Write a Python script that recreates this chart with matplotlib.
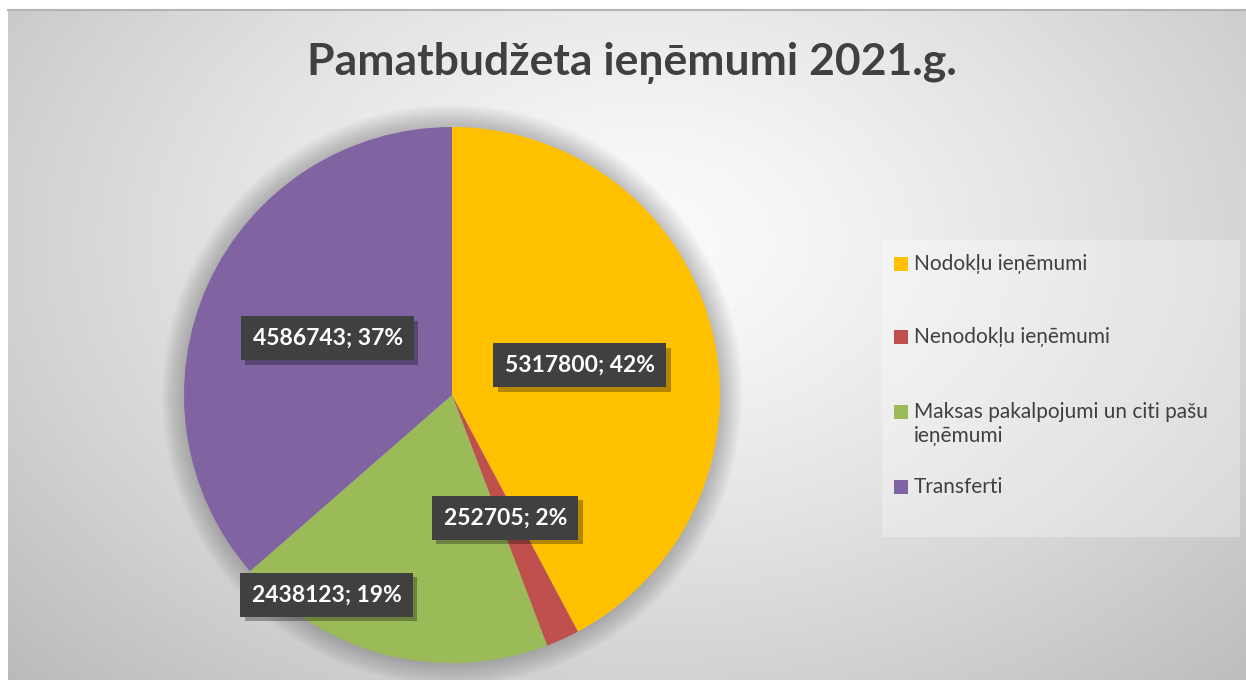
import numpy as np
import matplotlib
matplotlib.use("Agg")
import matplotlib.pyplot as plt
import matplotlib.patheffects as pe
from matplotlib.patches import Rectangle, Circle

plt.rcParams['font.family'] = ['Lato', 'DejaVu Sans']

# data
categories = ['Nodokļu ieņēmumi', 'Nenodokļu ieņēmumi',
              'Maksas pakalpojumi un citi pašu\nieņēmumi', 'Transferti']
values = [5317800, 252705, 2438123, 4586743]
pct_labels = ['42%', '2%', '19%', '37%']
colors = ['#FFC000', '#C0504D', '#9BBB59', '#8064A2']
title = 'Pamatbudžeta ieņēmumi 2021.g.'

W, H = 1246, 680
fig = plt.figure(figsize=(W / 100, H / 100), dpi=100)

# background with radial gradient
bg = fig.add_axes([8 / W, 0, (W - 8) / W, (H - 10) / H])
yy, xx = np.mgrid[0:H - 10, 0:W - 8]
d = np.sqrt(((xx - 640) / 800.0) ** 2 + ((yy - 230) / 560.0) ** 2)
g = 0.985 - 0.22 * np.clip(d, 0, 1.2) ** 1.3
bg.imshow(np.dstack([g, g, g]), aspect='auto', interpolation='bilinear')
bg.axis('off')
fig.add_artist(plt.Line2D([8 / W, 1], [(H - 10) / H] * 2, color='#b4b4b4', lw=1.5))

# pie
cx, cy, R = 452, 395, 268
ax = fig.add_axes([(cx - R) / W, (H - cy - R) / H, 2 * R / W, 2 * R / H])
ax.axis('off')

# soft glow around the pie
for i in range(14):
    ax.add_patch(Circle((0, 0), 1 + 0.006 * (i + 1), color='#000000', alpha=0.016, lw=0,
                        zorder=0, clip_on=False))

wedges, _ = ax.pie(values, colors=colors, startangle=90, counterclock=False, radius=1,
                   wedgeprops=dict(linewidth=0))
ax.set_xlim(-1, 1)
ax.set_ylim(-1, 1)
ax.set_aspect('equal')

label_r = [0.49, 0.5, 0.88, 0.51]
label_shift = [-1, -1, -18, 0]
shadow = [pe.SimplePatchShadow(offset=(3, -3), shadow_rgbFace='black', alpha=0.3), pe.Normal()]
for w, v, p, r, s in zip(wedges, values, pct_labels, label_r, label_shift):
    a = np.deg2rad((w.theta1 + w.theta2) / 2 + s)
    x, y = r * np.cos(a), r * np.sin(a)
    t = ax.text(x, y, f'{v}; {p}', ha='center', va='center', fontsize=16.5, fontweight='bold',
                color='white', bbox=dict(boxstyle='square,pad=0.5', fc='#404040', ec='none'),
                zorder=5)
    t.get_bbox_patch().set_path_effects(shadow)

# title
fig.text(632 / W, 1 - 63 / H, title, ha='center', va='center', fontsize=32, fontweight='bold',
         color='#404040')

# legend (manual)
fig.add_artist(Rectangle((882 / W, 1 - 537 / H), (1240 - 882) / W, (537 - 240) / H,
                         transform=fig.transFigure, fc='white', alpha=0.3, ec='none'))
leg_y = [264, 337, 424, 487]
for c, lab, y in zip(colors, categories, leg_y):
    yy0 = 412 if '\n' in lab else y
    fig.add_artist(Rectangle((894 / W, 1 - (yy0 + 7) / H), 14 / W, 14 / H,
                             transform=fig.transFigure, fc=c, ec='none'))
    fig.text(914 / W, 1 - y / H, lab, ha='left', va='center', fontsize=15, color='#404040',
             linespacing=1.2)

fig.savefig('out.png', dpi=100)
